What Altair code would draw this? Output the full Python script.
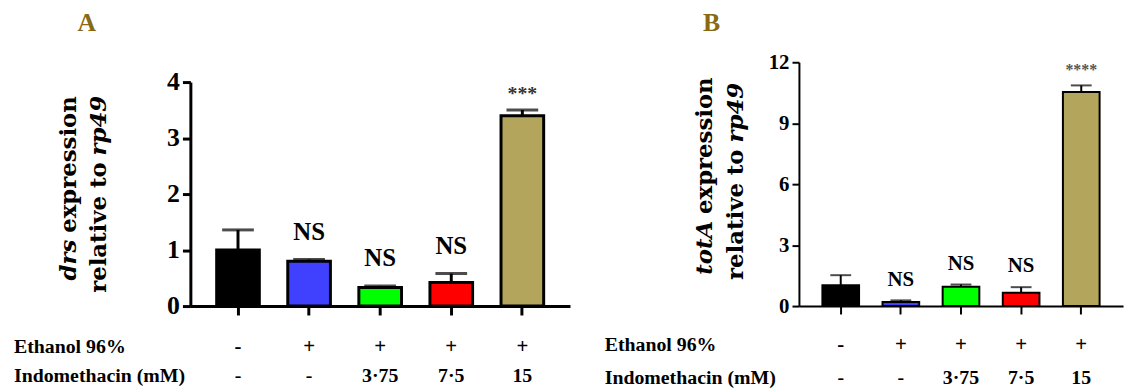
import altair as alt
import pandas as pd

# ---------------- data ----------------
groups = ["Control", "Vehicle", "Indo 3.75", "Indo 7.5", "Indo 15"]
ethanol_row = ["-", "+", "+", "+", "+"]
indo_row = ["-", "-", "3·75", "7·5", "15"]

drs_mean = [1.00, 0.80, 0.33, 0.42, 3.40]
drs_err = [0.36, 0.03, 0.03, 0.16, 0.10]
drs_sig = ["", "NS", "NS", "NS", "***"]
drs_colors = ["#000000", "#4040ff", "#00ff00", "#ff0000", "#b4a55c"]
drs_ticks = [0, 1, 2, 3, 4]

tota_mean = [1.03, 0.20, 0.95, 0.65, 10.53]
tota_err = [0.49, 0.08, 0.11, 0.28, 0.33]
tota_sig = ["", "NS", "NS", "NS", "****"]
tota_colors = ["#000000", "#2e3192", "#00ff00", "#ff0000", "#a99645"]
tota_ticks = [0, 3, 6, 9, 12]

SERIF = "Liberation Serif"
TITLE_FONT = "DejaVu Serif"
LETTER_COLOR = "#8b6914"
H = 248


def panel(mean, err, sig, colors, ticks, ymax, yrange, W, pi, po, sw, tick_len,
          label_size, ns_size, ns_dy, star_size, star_color, star_dy, cap,
          letter, letter_x, title1, title2, title_x, row_y, row_label_x):
    df = pd.DataFrame({
        "group": groups,
        "mean": mean,
        "top": [m + e for m, e in zip(mean, err)],
        "sig": sig,
        "eth": ethanol_row,
        "indo": indo_row,
    })
    xenc = alt.X(
        "group:N", sort=groups,
        scale=alt.Scale(paddingInner=pi, paddingOuter=po),
        axis=alt.Axis(labels=False, title=None, grid=False, domainColor="black",
                      domainWidth=sw, tickColor="black", tickWidth=sw,
                      tickSize=tick_len + 1),
    )
    yaxis = alt.Axis(values=ticks, title=None, grid=False, domainColor="black",
                     domainWidth=sw, tickColor="black", tickWidth=sw,
                     tickSize=tick_len, labelFont=SERIF, labelFontSize=label_size,
                     labelFontWeight="bold", labelColor="black", labelPadding=3)
    yscale = alt.Scale(domain=[0, ymax], range=yrange, nice=False, zero=True)

    base = alt.Chart(df)
    bars = base.mark_bar(stroke="black", strokeWidth=sw).encode(
        x=xenc,
        y=alt.Y("mean:Q", scale=yscale, axis=yaxis),
        y2=alt.datum(0),
        color=alt.Color("group:N", scale=alt.Scale(domain=groups, range=colors),
                        legend=None),
    )
    rule = base.mark_rule(color="black", strokeWidth=sw).encode(
        x=xenc, y=alt.Y("mean:Q", scale=yscale, axis=yaxis), y2="top:Q")
    caps = base.mark_tick(color="black", thickness=sw, size=cap).encode(
        x=xenc, y=alt.Y("top:Q", scale=yscale, axis=yaxis))
    ns = base.transform_filter(alt.datum.sig == "NS").mark_text(
        font=SERIF, fontSize=ns_size, fontWeight="bold", color="black",
        baseline="alphabetic", dy=ns_dy).encode(
        x=xenc, y=alt.Y("top:Q", scale=yscale, axis=yaxis), text="sig:N")
    stars = base.transform_filter(alt.datum.sig != "NS").mark_text(
        font=SERIF, fontSize=star_size, fontWeight="bold", color=star_color,
        baseline="alphabetic", dy=star_dy).encode(
        x=xenc, y=alt.Y("top:Q", scale=yscale, axis=yaxis), text="sig:N")

    row_eth = base.mark_text(font=SERIF, fontSize=21, fontWeight="bold",
                             color="black", baseline="middle").encode(
        x=xenc, y=alt.value(row_y[0]), text="eth:N")
    row_indo = base.mark_text(font=SERIF, fontSize=20, fontWeight="bold",
                              color="black", baseline="middle").encode(
        x=xenc, y=alt.value(row_y[1]), text="indo:N")

    lab_df = pd.DataFrame({"label": ["Ethanol 96%", "Indomethacin (mM)"],
                           "ypos": row_y})
    row_labels = alt.Chart(lab_df).mark_text(
        font=SERIF, fontSize=20, fontWeight="bold", color="black",
        align="left", baseline="middle").encode(
        x=alt.value(row_label_x), y=alt.Y("ypos:Q", scale=None), text="label:N")

    # y-axis title built from segments (italic gene names)
    segs = []
    for (txt, style, align, yv, xv) in [
        (title1[0], title1[1], "right", title1[2], title_x[0]),
        (title1[3], title1[4], "left", title1[5], title_x[0]),
        (title2[0], title2[1], "right", title2[2], title_x[1]),
        (title2[3], title2[4], "left", title2[5], title_x[1]),
    ]:
        segs.append(
            alt.Chart(pd.DataFrame({"t": [txt]})).mark_text(
                font=TITLE_FONT, fontSize=23, fontWeight="bold", fontStyle=style,
                color="black", angle=270, align=align, baseline="middle").encode(
                x=alt.value(xv), y=alt.value(yv), text="t:N")
        )

    letter_ch = alt.Chart(pd.DataFrame({"t": [letter]})).mark_text(
        font=SERIF, fontSize=26, fontWeight="bold", color=LETTER_COLOR,
        align="center", baseline="alphabetic").encode(
        x=alt.value(letter_x), y=alt.value(-29.7), text="t:N")

    return alt.layer(bars, rule, caps, ns, stars, row_eth, row_indo, row_labels,
                     *segs, letter_ch).properties(width=W, height=H)


panel_a = panel(
    drs_mean, drs_err, drs_sig, drs_colors, drs_ticks, 4, [H, 22], 383,
    0.40, 0.37, 3, 8, 26, 25, -20, 20, "#333333", -10, 32,
    "A", -104.5,
    ("drs", "italic", 181, "expression", "normal", 174),
    ("relative to", "normal", 103, "rp49", "italic", 96),
    (-122, -92), [289, 319], -178,
)

panel_b = panel(
    tota_mean, tota_err, tota_sig, tota_colors, tota_ticks, 12, [H, 2], 327,
    0.39, 0.39, 2, 7, 21, 21, -15, 16, "#555555", -10, 21,
    "B", -88,
    ("totA", "italic", 162, "expression", "normal", 155),
    ("relative to", "normal", 90, "rp49", "italic", 83),
    (-95, -63), [287, 321], -196,
)

chart = alt.hconcat(panel_a, panel_b, spacing=231, bounds="flush").configure_view(
    stroke=None
).properties(padding={"left": 6, "top": 0, "right": 5, "bottom": 5})

chart.save("out.html", embed_options={"renderer": "svg", "actions": False})
